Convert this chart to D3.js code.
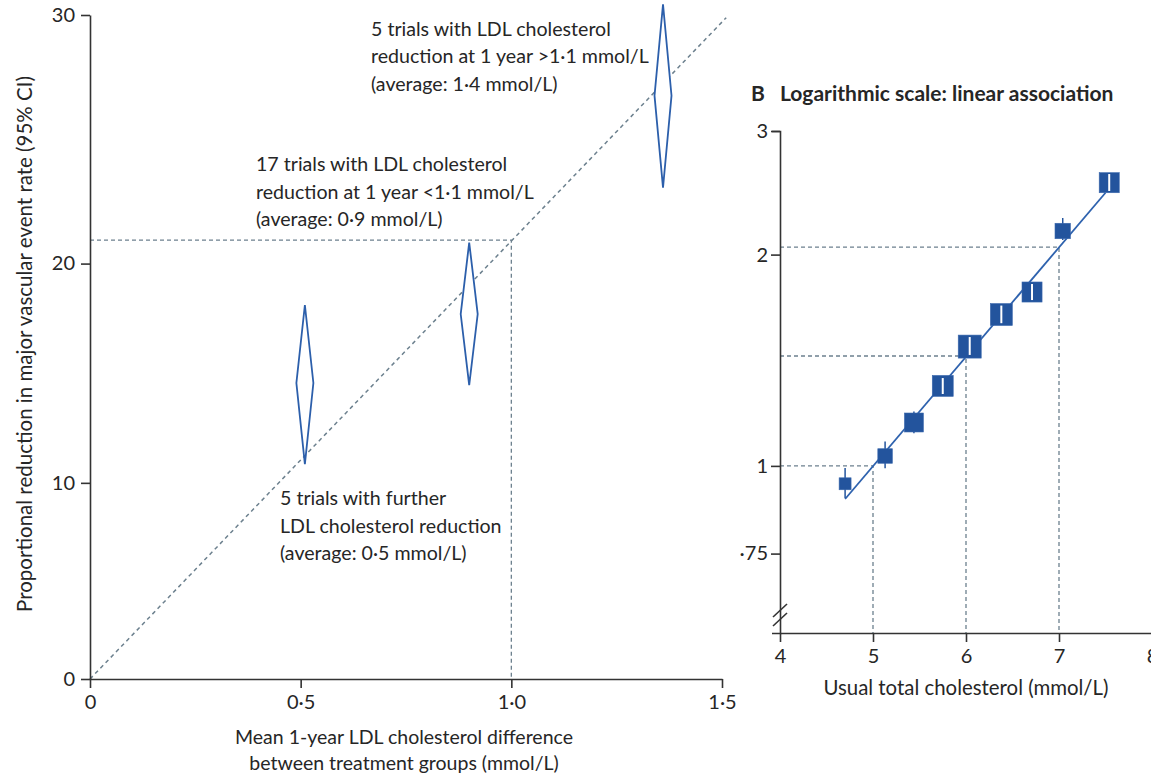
<!DOCTYPE html>
<html>
<head>
<meta charset="utf-8">
<script src="https://cdn.jsdelivr.net/npm/d3@7"></script>
<style>
body { margin: 0; background: #fff; }
svg text { font-family: Lato, "Open Sans", sans-serif; fill: #262626; }
</style>
</head>
<body>
<svg id="chart" width="1151" height="776"></svg>
<script>
// ---- panel A : groups of trials (LDL difference vs proportional reduction, 95% CI)
var groupX    = [0.51, 0.90, 1.36];
var groupLow  = [10.9, 14.6, 23.2];
var groupMid  = [14.7, 17.8, 26.9];
var groupHigh = [18.2, 20.9, 30.4];
var trendX = [0, 1.51];
var trendY = [0, 29.9];
var refAX = 1.0, refAY = 21;
var tickAX = [0, 0.5, 1.0, 1.5];
var tickAXLabels = ["0", "0·5", "1·0", "1·5"];
var tickAY = [0, 10, 20, 30];
var tickAYLabels = ["0", "10", "20", "30"];
var noteHigh = ["5 trials with LDL cholesterol", "reduction at 1 year >1·1 mmol/L", "(average: 1·4 mmol/L)"];
var noteMid  = ["17 trials with LDL cholesterol", "reduction at 1 year <1·1 mmol/L", "(average: 0·9 mmol/L)"];
var noteLow  = ["5 trials with further", "LDL cholesterol reduction", "(average: 0·5 mmol/L)"];

// ---- panel B : usual cholesterol vs relative risk (log scale)
var cholX    = [4.70, 5.13, 5.44, 5.75, 6.04, 6.38, 6.71, 7.04, 7.54];
var riskY    = [0.943, 1.033, 1.153, 1.30, 1.479, 1.643, 1.769, 2.161, 2.532];
var riskLow  = [0.900, 0.992, 1.113, 1.266, 1.439, 1.597, 1.723, 2.098, 2.464];
var riskHigh = [0.993, 1.083, 1.195, 1.334, 1.526, 1.692, 1.816, 2.255, 2.605];
var weight   = [27, 40, 68, 83, 100, 91, 76, 45, 76];
var fitX = [4.7, 7.5];
var fitY = [0.897, 2.45];
var refBX = [5, 6, 7];
var refBY = [1.0, 1.434, 2.05];
var tickBX = [4, 5, 6, 7, 8];
var tickBY = [0.75, 1, 2, 3];
var tickBYLabels = ["·75", "1", "2", "3"];

var blue = "#23549d", dashCol = "#6c808e", axisCol = "#333";

var svg = d3.select("#chart");

function styleAxis(g, fs) {
  g.attr("font-family", null).attr("font-size", null);
  g.selectAll("path, line").attr("stroke", axisCol).attr("stroke-width", 1.6);
  g.selectAll("text").attr("fill", "#262626").style("font-size", fs + "px");
}

// ================= Panel A
var xA = d3.scaleLinear().domain([0, 1.5]).range([90, 722]);
var yA = d3.scaleLog().domain([1, 0.7]).range([679, 15]);
function yRed(r) { return yA(1 - r / 100); }

var gA = svg.append("g");

// dashed trend + reference lines
gA.append("path")
  .attr("d", d3.line()(trendX.map(function(d, i) { return [xA(d), yRed(trendY[i])]; })))
  .attr("stroke", dashCol).attr("stroke-width", 1.5).attr("stroke-dasharray", "4,3.5").attr("fill", "none");
gA.append("path")
  .attr("d", d3.line()([[xA(0), yRed(refAY)], [xA(refAX), yRed(refAY)], [xA(refAX), yRed(0)]]))
  .attr("stroke", dashCol).attr("stroke-width", 1.3).attr("stroke-dasharray", "4,3").attr("fill", "none");

// diamonds
var hw = 8.5;
gA.selectAll("path.diamond")
  .data(groupX)
  .enter()
  .append("path")
  .attr("class", "diamond")
  .attr("d", function(d, i) {
    var x = xA(d);
    return d3.line()([[x, yRed(groupHigh[i])], [x + hw, yRed(groupMid[i])],
                      [x, yRed(groupLow[i])], [x - hw, yRed(groupMid[i])]]) + "Z";
  })
  .attr("fill", "#fff").attr("stroke", "#2c5fab").attr("stroke-width", 1.8)
  .attr("stroke-linejoin", "miter");

// axes
gA.append("g")
  .attr("transform", "translate(0," + yRed(0) + ")")
  .call(d3.axisBottom(xA).tickValues(tickAX).tickSize(9).tickSizeOuter(0).tickPadding(7)
        .tickFormat(function(d, i) { return tickAXLabels[i]; }))
  .call(styleAxis, 20);
gA.append("g")
  .attr("transform", "translate(" + xA(0) + ",0)")
  .call(d3.axisLeft(yA).tickValues(tickAY.map(function(r) { return 1 - r / 100; })).tickSize(9).tickSizeOuter(0).tickPadding(6)
        .tickFormat(function(d, i) { return tickAYLabels[i]; }))
  .call(styleAxis, 20);

// axis titles
gA.append("text")
  .attr("transform", "translate(32,344) rotate(-90)")
  .attr("text-anchor", "middle").style("font-size", "20.5px")
  .text("Proportional reduction in major vascular event rate (95% CI)");
gA.append("text").attr("x", xA(0.75) - 2).attr("y", 744).attr("text-anchor", "middle").style("font-size", "19.5px")
  .text("Mean 1-year LDL cholesterol difference");
gA.append("text").attr("x", xA(0.75) - 2).attr("y", 770).attr("text-anchor", "middle").style("font-size", "19.5px")
  .text("between treatment groups (mmol/L)");

function note(lines, x, y) {
  gA.append("g").selectAll("text").data(lines).enter().append("text")
    .attr("x", x).attr("y", function(d, i) { return y + i * 27.6; })
    .style("font-size", "19.6px")
    .text(function(d) { return d; });
}
note(noteHigh, 371, 35.5);
note(noteMid, 256, 171);
note(noteLow, 280, 505);

// ================= Panel B
var xB = d3.scaleLinear().domain([4, 8]).range([780, 1152]);
var yB = d3.scaleLog().domain([0.578, 3]).range([633, 131]);
var size = d3.scaleSqrt().domain([0, 100]).range([0, 23]);

var gB = svg.append("g");

gB.append("text").attr("x", 751).attr("y", 101).style("font-size", "21px").style("font-weight", "bold").text("B");
gB.append("text").attr("x", 780).attr("y", 101).style("font-size", "21px").style("font-weight", "bold")
  .text("Logarithmic scale: linear association");

// dashed reference lines
gB.selectAll("path.ref")
  .data(refBX)
  .enter()
  .append("path")
  .attr("class", "ref")
  .attr("d", function(d, i) {
    return d3.line()([[xB(4), yB(refBY[i])], [xB(d), yB(refBY[i])], [xB(d), yB.range()[0]]]);
  })
  .attr("stroke", dashCol).attr("stroke-width", 1.3).attr("stroke-dasharray", "4,3").attr("fill", "none");

// fitted line
gB.append("path")
  .attr("d", d3.line()(fitX.map(function(d, i) { return [xB(d), yB(fitY[i])]; })))
  .attr("stroke", "#2e62ae").attr("stroke-width", 1.8).attr("fill", "none");

// CI lines
gB.selectAll("line.ci")
  .data(cholX)
  .enter()
  .append("line")
  .attr("class", "ci")
  .attr("x1", function(d) { return xB(d); }).attr("x2", function(d) { return xB(d); })
  .attr("y1", function(d, i) { return yB(riskLow[i]); })
  .attr("y2", function(d, i) { return yB(riskHigh[i]); })
  .attr("stroke", blue).attr("stroke-width", 1.5);

// boxes
gB.selectAll("rect.box")
  .data(cholX)
  .enter()
  .append("rect")
  .attr("class", "box")
  .attr("x", function(d, i) { return xB(d) - size(weight[i]) / 2; })
  .attr("y", function(d, i) { return yB(riskY[i]) - size(weight[i]) / 2; })
  .attr("width", function(d, i) { return size(weight[i]); })
  .attr("height", function(d, i) { return size(weight[i]); })
  .attr("fill", blue).attr("stroke", "#3a68ad").attr("stroke-width", 0.6);

// CI lying inside the box drawn in white
var inside = d3.range(cholX.length).filter(function(i) {
  var h = size(weight[i]) / 2, c = yB(riskY[i]);
  return yB(riskHigh[i]) > c - h && yB(riskLow[i]) < c + h;
});
gB.selectAll("line.ciw")
  .data(inside)
  .enter()
  .append("line")
  .attr("class", "ciw")
  .attr("x1", function(i) { return xB(cholX[i]); }).attr("x2", function(i) { return xB(cholX[i]); })
  .attr("y1", function(i) { return yB(riskLow[i]); })
  .attr("y2", function(i) { return yB(riskHigh[i]); })
  .attr("stroke", "#fff").attr("stroke-width", 2);

// axes
gB.append("g")
  .attr("transform", "translate(0," + yB.range()[0] + ")")
  .call(d3.axisBottom(xB).tickValues(tickBX).tickSize(9).tickSizeOuter(0).tickPadding(7).tickFormat(d3.format("d")))
  .call(styleAxis, 20);
gB.append("g")
  .attr("transform", "translate(" + xB(4) + ",0)")
  .call(d3.axisLeft(yB).tickValues(tickBY).tickSize(9).tickSizeOuter(8).tickPadding(3)
        .tickFormat(function(d, i) { return tickBYLabels[i]; }))
  .call(styleAxis, 20);

// axis break
[0, 9].forEach(function(off) {
  gB.append("line")
    .attr("x1", xB(4) - 7).attr("y1", 617 + off).attr("x2", xB(4) + 7).attr("y2", 604 + off)
    .attr("stroke", axisCol).attr("stroke-width", 1.6);
});

gB.append("text").attr("x", xB(6)).attr("y", 695).attr("text-anchor", "middle").style("font-size", "20.4px")
  .text("Usual total cholesterol (mmol/L)");
</script>
</body>
</html>
